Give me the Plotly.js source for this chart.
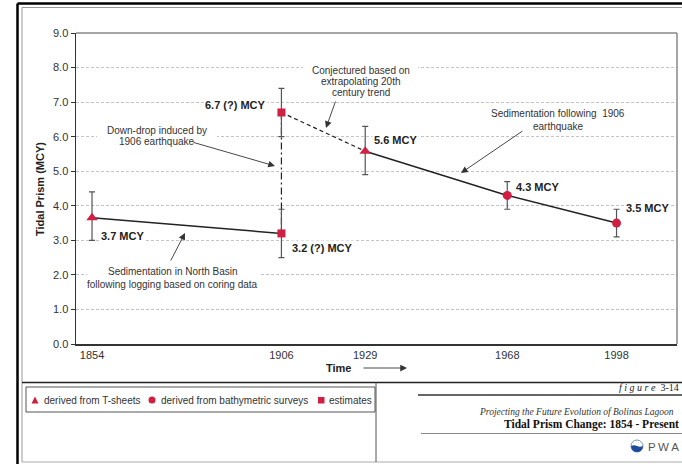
<!DOCTYPE html>
<html>
<head>
<meta charset="utf-8">
<script src="https://cdn.plot.ly/plotly-3.0.1.min.js"></script>
<style>
html,body{margin:0;padding:0;background:#fff;}
#chart{width:682px;height:464px;}
</style>
</head>
<body>
<div id="chart"></div>
<script>
// ---- data ----
const years   = [1854, 1906, 1906, 1929, 1968, 1998];
const prism   = [3.65, 6.7, 3.2, 5.58, 4.3, 3.5];
const errLow  = [3.0, 6.0, 2.5, 4.9, 3.9, 3.1];
const errHigh = [4.4, 7.4, 3.9, 6.3, 4.7, 3.9];
const source  = ['tsheet', 'estimate', 'estimate', 'tsheet', 'bathy', 'bathy'];
const pointLabels = ['3.7 MCY', '6.7 (?) MCY', '3.2 (?) MCY', '5.6 MCY', '4.3 MCY', '3.5 MCY'];
const tickYears = [1854, 1906, 1929, 1968, 1998];
const tickLabels = ['1854', '1906', '1929', '1968', '1998'];
const legendLabels = ['derived from T-sheets', 'derived from bathymetric surveys', 'estimates'];
// line segments (indices into the point arrays)
const solidSegA = [0, 2];
const dashedSeg = [1, 3];
const solidSegB = [3, 4, 5];
const dropSeg   = [1, 2];

// ---- layout geometry (pixels) ----
const L = 76, R = 677, T = 33, B = 344;
const W = R - L, H = B - T;
const px = v => (v - L) / W;
const py = v => (B - v) / H;

const RED = '#d01f43';
const SANS = 'Liberation Sans, Arial, sans-serif';
const SERIF = 'Liberation Serif, Times New Roman, serif';

function pick(arr, idx) { return idx.map(i => arr[i]); }
function lineTrace(idx, dash, width) {
  return {x: pick(years, idx), y: pick(prism, idx), type: 'scatter', mode: 'lines',
    line: {color: '#222', width: width || 1.5, dash: dash || 'solid'}, hoverinfo: 'skip'};
}
function pointTrace(src, symbol, size) {
  const idx = source.map((s, i) => s === src ? i : -1).filter(i => i >= 0);
  return {x: pick(years, idx), y: pick(prism, idx), type: 'scatter', mode: 'markers',
    marker: {symbol: symbol, size: size, color: RED},
    error_y: {type: 'data', symmetric: false,
      array: idx.map(i => errHigh[i] - prism[i]),
      arrayminus: idx.map(i => prism[i] - errLow[i]),
      color: '#555', thickness: 1.2, width: 3}};
}

const traces = [
  lineTrace(dropSeg, '7px,3px,2px,3px', 1.2),
  lineTrace(solidSegA),
  lineTrace(dashedSeg, '4px,3px', 1.2),
  lineTrace(solidSegB),
  pointTrace('tsheet', 'triangle-up', 10),
  pointTrace('bathy', 'circle', 9),
  pointTrace('estimate', 'square', 8)
];

// ---- annotations ----
const ann = [];
function txt(text, x, y, opt) {
  opt = opt || {};
  ann.push(Object.assign({text: text, xref: 'paper', yref: 'paper', x: px(x), y: py(y),
    xanchor: opt.anchor || 'center', yanchor: 'middle', showarrow: false,
    font: {family: opt.family || SANS, size: opt.size || 10, color: opt.color || '#333'}},
    opt.extra || {}));
}
function arrow(hx, hy, tx, ty) {
  ann.push({text: '', xref: 'paper', yref: 'paper', x: px(hx), y: py(hy),
    ax: tx - hx, ay: ty - hy, showarrow: true, arrowhead: 2, arrowsize: 1.5,
    arrowwidth: 0.9, arrowcolor: '#333', startstandoff: 0, standoff: 0});
}

// point value labels (offsets in px relative to their points)
const labelShift = [[30.5, -18], [-46, 7.5], [40.6, -14.6], [30, 11], [30, 8.4], [30.5, 15]];
pointLabels.forEach((t, i) => {
  ann.push({text: '<b>' + t + '</b>', x: years[i], y: prism[i], xref: 'x', yref: 'y',
    xshift: labelShift[i][0], yshift: labelShift[i][1], showarrow: false,
    bgcolor: '#fff', borderpad: 1,
    font: {family: SANS, size: 11, color: '#222'}});
});

// callout texts
txt('Conjectured based on', 360.5, 70);
txt('extrapolating 20th', 360.5, 81.5);
txt('century trend', 360.5, 92.5);
txt('Down-drop induced by', 157, 130);
txt('1906 earthquake', 157, 141);
txt('Sedimentation following  1906', 558, 114);
txt('earthquake', 558, 126);
txt('Sedimentation in North Basin', 172.5, 271);
txt('following logging based on coring data', 172.5, 284);

arrow(326, 128, 336, 100);
arrow(275, 166, 192, 142);
arrow(461, 173, 524, 130);
arrow(185, 233, 170, 262);

// axis title texts
txt('<b>Tidal Prism (MCY)</b>', 40, 189, {size: 11, color: '#222', extra: {textangle: -90}});
txt('<b>Time</b>', 338.5, 368, {size: 11, color: '#222'});
arrow(407, 368, 362, 368);

// legend
txt(legendLabels[0], 42, 400, {anchor: 'left', size: 10});
txt(legendLabels[1], 159, 400, {anchor: 'left', size: 10});
txt(legendLabels[2], 327, 400, {anchor: 'left', size: 10});

// title block
txt('<i>f i g u r e</i>  3-14', 681, 387, {anchor: 'right', family: SERIF, size: 10, color: '#222'});
txt('<i>Projecting the Future Evolution of Bolinas Lagoon</i>', 676, 411.5, {anchor: 'right', family: SERIF, size: 9.5, color: '#333'});
txt('<b>Tidal Prism Change: 1854 - Present</b>', 681, 424, {anchor: 'right', family: SERIF, size: 11.5, color: '#111'});
txt('P\u2009W\u2009A', 646, 447, {anchor: 'left', size: 11.5, color: '#555'});

// ---- shapes ----
const shp = [];
function ln(x0, y0, x1, y1, color, width) {
  shp.push({type: 'line', xref: 'paper', yref: 'paper', x0: px(x0), y0: py(y0), x1: px(x1), y1: py(y1),
    line: {color: color, width: width}, layer: 'above'});
}
function rect(x0, y0, x1, y1, fill, lineColor) {
  shp.push({type: 'rect', xref: 'paper', yref: 'paper', x0: px(x0), y0: py(y0), x1: px(x1), y1: py(y1),
    fillcolor: fill, line: {color: lineColor || 'rgba(0,0,0,0)', width: lineColor ? 1 : 0}, layer: 'above'});
}
function path(d, fill, lineColor) {
  shp.push({type: 'path', xref: 'paper', yref: 'paper', path: d, fillcolor: fill,
    line: {color: lineColor || 'rgba(0,0,0,0)', width: lineColor ? 1 : 0}});
}
const P = (x, y) => px(x) + ',' + py(y);

// gridline masks behind callout texts (no marks lie inside these areas)
rect(303, 63, 418, 73, '#fff');
rect(97, 133, 217, 140.5, '#fff');
rect(87, 270, 260, 279, '#fff');

// plot frame (top/right)
ln(L, T, R, T, '#888', 1.5);
ln(R, T, R, B, '#888', 1.5);

// page frame
ln(17.5, 3.5, 682, 3.5, '#000', 2.5);
ln(17.5, 3.5, 17.5, 464, '#000', 2.5);
ln(22, 7.5, 682, 7.5, '#999', 1);
ln(22, 7.5, 22, 462, '#999', 1);
ln(22, 462, 682, 462, '#aaa', 1);
ln(22, 382.5, 682, 382.5, '#222', 1.5);
ln(376, 382.5, 376, 462, '#555', 1);
rect(26, 387, 375, 412, 'rgba(0,0,0,0)', '#555');

// title block rules
ln(418, 395, 682, 395, '#333', 1.5);
ln(421, 433.5, 682, 433.5, '#888', 1);

// legend symbols
path('M' + P(31.5, 403.5) + ' L' + P(38.5, 403.5) + ' L' + P(35, 396.5) + ' Z', RED);
shp.push({type: 'circle', xref: 'paper', yref: 'paper', x0: px(148.5), x1: px(155.5), y0: py(403.5), y1: py(396.5),
  fillcolor: RED, line: {width: 0}});
rect(318, 397, 324.5, 403.5, RED);

// PWA logo
shp.push({type: 'circle', xref: 'paper', yref: 'paper', x0: px(631), x1: px(643), y0: py(452), y1: py(440),
  fillcolor: '#fff', line: {color: '#7a8fb8', width: 1}});
path('M' + P(631, 446) + ' Q' + P(634, 444.5) + ' ' + P(637, 446) + ' Q' + P(640, 447.5) + ' ' + P(643, 446) +
  ' Q' + P(642.5, 452) + ' ' + P(637, 452) + ' Q' + P(631.5, 452) + ' ' + P(631, 446) + ' Z', '#1f4b9c');

const layout = {
  width: 682, height: 464,
  margin: {l: L, r: 682 - R, t: T, b: 464 - B, pad: 0},
  paper_bgcolor: '#fff', plot_bgcolor: '#fff',
  showlegend: false,
  font: {family: SANS, color: '#333'},
  xaxis: {range: [1849.6, 2014.6], tickvals: tickYears, ticktext: tickLabels,
    showgrid: false, zeroline: false, showline: true, linecolor: '#333', linewidth: 1.5,
    ticks: '', tickfont: {size: 11, color: '#333', family: SANS}, automargin: false, fixedrange: true},
  yaxis: {range: [0, 9], tick0: 0, dtick: 1, tickformat: '.1f',
    showgrid: true, gridcolor: '#c4c4c4', griddash: '3px,2px', gridwidth: 1,
    zeroline: false, showline: true, linecolor: '#333', linewidth: 1.5,
    ticks: 'outside', ticklen: 4, tickcolor: '#333', tickwidth: 1,
    tickfont: {size: 11, color: '#333', family: SANS}, automargin: false, fixedrange: true},
  annotations: ann,
  shapes: shp
};

Plotly.newPlot('chart', traces, layout, {staticPlot: true, displayModeBar: false});
</script>
</body>
</html>
